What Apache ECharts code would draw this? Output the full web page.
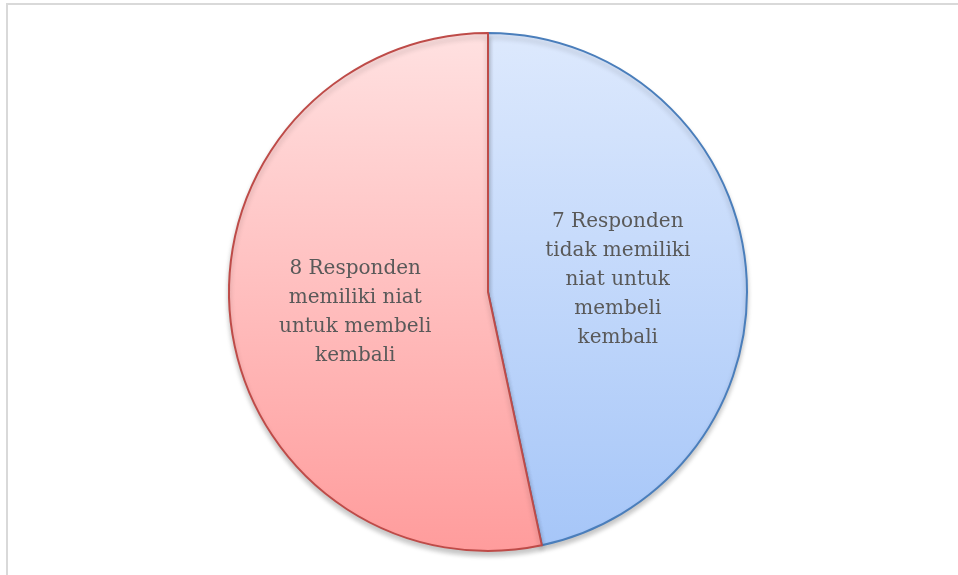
<!DOCTYPE html>
<html>
<head>
<meta charset="utf-8">
<script src="https://cdn.jsdelivr.net/npm/echarts@6/dist/echarts.min.js"></script>
<style>html,body{margin:0;padding:0;background:#fff}#c{width:958px;height:575px}</style>
</head>
<body>
<div id="c"></div>
<script>
var categories = ['7 Responden\ntidak memiliki\nniat untuk\nmembeli\nkembali', '8 Responden\nmemiliki niat\nuntuk membeli\nkembali'];
var values = [7, 8];

var styles = [
  {top: '#dde9fd', bottom: '#a6c6f8', border: '#4a7ebb', offset: [-2, 2]},
  {top: '#ffe1e1', bottom: '#ff9c9c', border: '#be4b48', offset: [-1, 6]}
];

var chart = echarts.init(document.getElementById('c'), null, {renderer: 'canvas'});
chart.setOption({
  animation: false,
  graphic: [{
    type: 'rect', silent: true,
    shape: {x: 7, y: 4, width: 960, height: 600},
    style: {fill: 'none', stroke: '#d9d9d9', lineWidth: 2}
  }],
  series: [{
    type: 'pie',
    center: [488, 292],
    radius: 259,
    startAngle: 90,
    clockwise: true,
    label: {
      show: true,
      position: 'inner',
      formatter: function (p) { return p.name; },
      color: '#595959',
      fontFamily: 'DejaVu Serif',
      fontSize: 20,
      lineHeight: 29,
      align: 'center'
    },
    labelLine: {show: false},
    emphasis: {disabled: true},
    data: categories.map(function (c, i) {
      return {
        name: c,
        value: values[i],
        label: {offset: styles[i].offset},
        itemStyle: {
          color: new echarts.graphic.LinearGradient(0, 0, 0, 1, [
            {offset: 0, color: styles[i].top},
            {offset: 1, color: styles[i].bottom}
          ]),
          borderColor: styles[i].border,
          borderWidth: 2,
          shadowColor: 'rgba(0,0,0,0.22)',
          shadowBlur: 5,
          shadowOffsetY: 4
        }
      };
    })
  }]
});
</script>
</body>
</html>
